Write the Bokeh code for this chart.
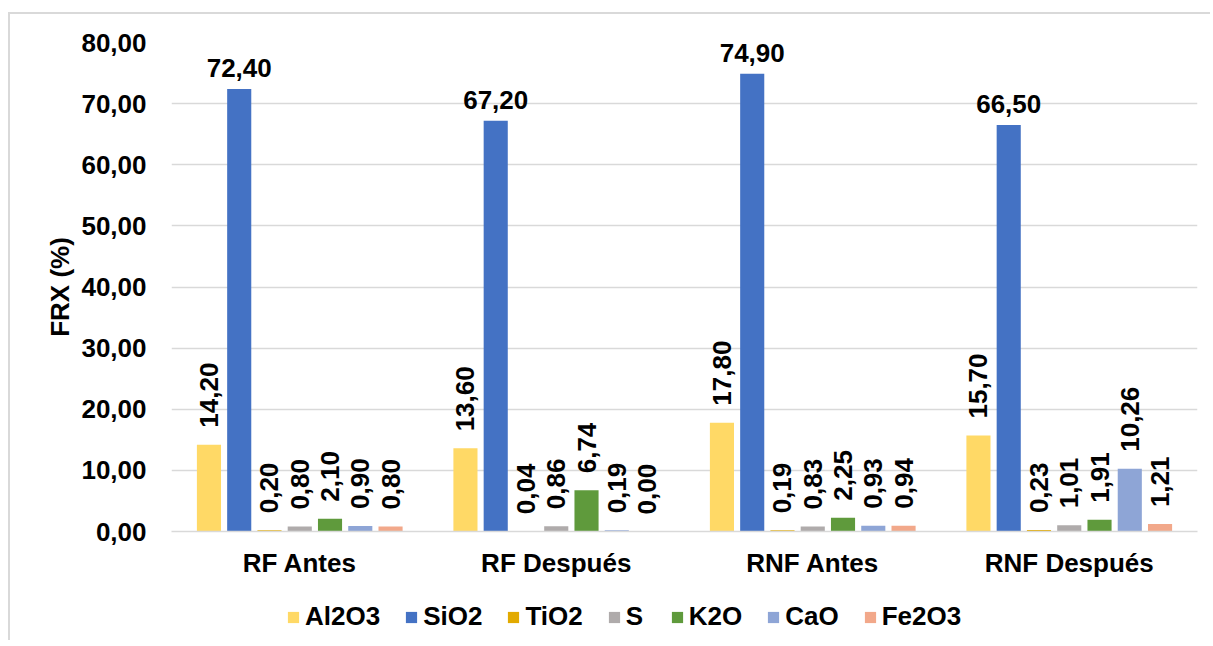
import math
from bokeh.plotting import figure
from bokeh.layouts import column
from bokeh.models import ColumnDataSource, FactorRange, Range1d, Legend, LegendItem, CustomJSTickFormatter, FixedTicker
from bokeh.transform import dodge
from bokeh.core.properties import value
from bokeh.embed import file_html
from bokeh.resources import INLINE

groups = ["RF Antes", "RF Después", "RNF Antes", "RNF Después"]
compounds = ["Al2O3", "SiO2", "TiO2", "S", "K2O", "CaO", "Fe2O3"]
al2o3 = [14.20, 13.60, 17.80, 15.70]
sio2 = [72.40, 67.20, 74.90, 66.50]
tio2 = [0.20, 0.04, 0.19, 0.23]
s_vals = [0.80, 0.86, 0.83, 1.01]
k2o = [2.10, 6.74, 2.25, 1.91]
cao = [0.90, 0.19, 0.93, 10.26]
fe2o3 = [0.80, 0.00, 0.94, 1.21]
series = [al2o3, sio2, tio2, s_vals, k2o, cao, fe2o3]
colors = ["#FFD966", "#4472C4", "#E2AA00", "#AFABAB", "#5F9A3C", "#8EA5D6", "#F2A88A"]
y_ticks = [0, 10, 20, 30, 40, 50, 60, 70, 80]

FONT = "Liberation Sans"
FS = "26px"

p = figure(x_range=FactorRange(factors=groups, range_padding=0),
           y_range=Range1d(0, 80),
           width=1200, height=576, output_backend="svg", toolbar_location=None,
           min_border_left=161, min_border_right=13, min_border_top=28, min_border_bottom=59)
p.outline_line_color = None

step = 0.118
bw = 0.094
for i, (name, vals, col) in enumerate(zip(compounds, series, colors)):
    off = (i - 3) * step
    labels = [("%.2f" % v).replace(".", ",") for v in vals]
    src = ColumnDataSource(dict(x=groups, top=vals, label=labels))
    p.vbar(x=dodge("x", off, range=p.x_range), top="top", width=bw, source=src,
           fill_color=col, line_color=None)
    if name == "SiO2":
        p.text(x=dodge("x", off, range=p.x_range), y="top", text="label", source=src,
               text_font=value(FONT), text_font_style="bold", text_font_size=FS,
               text_align="center", text_baseline="bottom", y_offset=-12, text_color="black")
    else:
        p.text(x=dodge("x", off, range=p.x_range), y="top", text="label", source=src,
               text_font=value(FONT), text_font_style="bold", text_font_size=FS,
               text_align="left", text_baseline="middle", angle=math.pi / 2,
               y_offset=-17, text_color="black")

p.xgrid.grid_line_color = None
p.ygrid.grid_line_color = "#D9D9D9"
p.ygrid.grid_line_width = 1.5
p.yaxis.ticker = FixedTicker(ticks=y_ticks)
p.yaxis.formatter = CustomJSTickFormatter(code="return tick.toFixed(2).replace('.', ',');")
for ax in (p.xaxis, p.yaxis):
    ax.major_tick_line_color = None
    ax.minor_tick_line_color = None
    ax.major_label_text_font = FONT
    ax.major_label_text_font_style = "bold"
    ax.major_label_text_font_size = FS
    ax.major_label_text_color = "black"
p.yaxis.axis_line_color = None
p.xaxis.axis_line_color = "#D9D9D9"
p.xaxis.axis_line_width = 1.5
p.yaxis.major_label_standoff = 19
p.xaxis.major_label_standoff = 10
p.xaxis.group_text_font_size = FS
p.yaxis.axis_label = "FRX (%)"
p.yaxis.axis_label_text_font = FONT
p.yaxis.axis_label_text_font_style = "bold"
p.yaxis.axis_label_text_font_size = FS
p.yaxis.axis_label_text_color = "black"
p.yaxis.axis_label_standoff = 3

# legend strip (same colours; zero-height proxy bars draw nothing)
lf = figure(width=1200, height=50, output_backend="svg", toolbar_location=None,
            x_range=Range1d(0, 1), y_range=Range1d(0, 1),
            min_border=0, min_border_left=0, min_border_right=0, min_border_top=0, min_border_bottom=0)
lf.axis.visible = False
lf.grid.visible = False
lf.outline_line_color = None
items = []
for name, col in zip(compounds, colors):
    r = lf.vbar(x=[0.5], top=[0], bottom=[0], width=0.0, fill_color=col, line_color=None)
    items.append(LegendItem(label=name, renderers=[r]))
legend = Legend(items=items, orientation="horizontal", location=(115, 8),
                glyph_width=14, glyph_height=14, label_standoff=5, spacing=24,
                label_text_font=FONT, label_text_font_style="bold", label_text_font_size=FS,
                label_text_color="black", border_line_color=None, padding=0, margin=0,
                background_fill_alpha=0)
lf.add_layout(legend, "center")

layout = column(p, lf, spacing=0)
layout.margin = (12, 0, 0, 8)
layout.styles = {"border-top": "2px solid #D9D9D9", "border-left": "2px solid #D9D9D9"}

open("out.html", "w").write(file_html(layout, INLINE))
